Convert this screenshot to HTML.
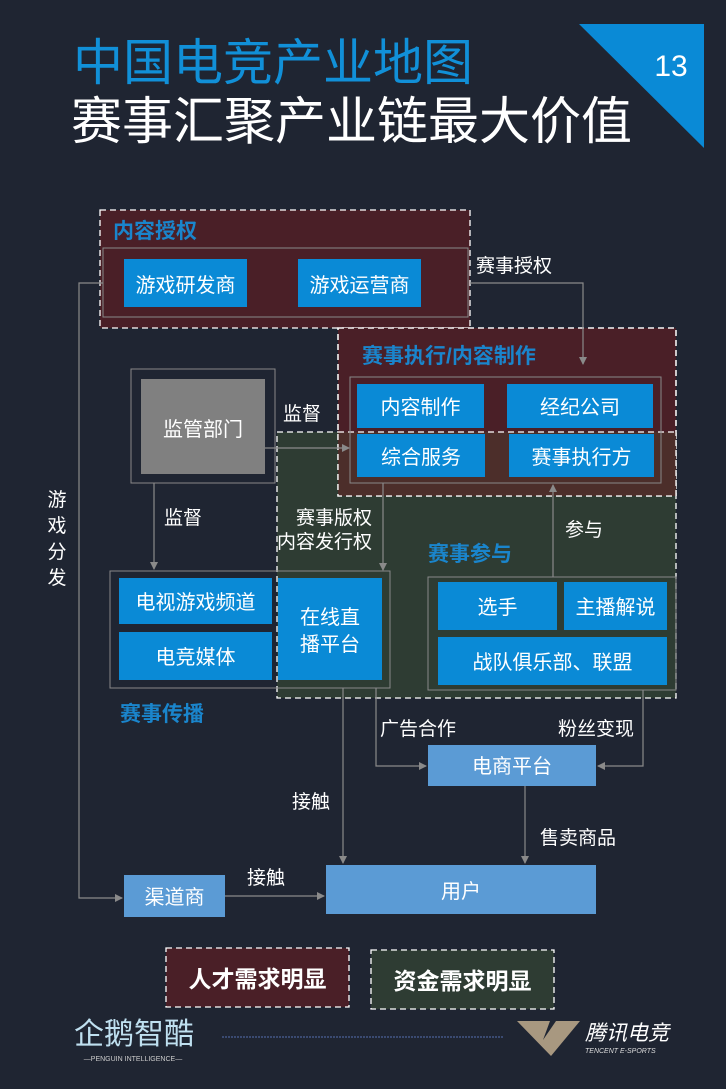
<!DOCTYPE html>
<html><head><meta charset="utf-8"><style>
html,body{margin:0;padding:0;background:#1f2532;}
svg{display:block}
text{font-family:"Liberation Sans","Noto Sans CJK SC",sans-serif;}
</style></head><body>
<svg width="726" height="1089" viewBox="0 0 726 1089" xmlns="http://www.w3.org/2000/svg">
<defs>
<marker id="a" markerWidth="8" markerHeight="8" refX="7" refY="4" orient="auto" markerUnits="userSpaceOnUse"><path d="M0,0 L8,4 L0,8 z" fill="#8a8a8a"/></marker>
</defs>
<rect width="726" height="1089" fill="#1f2532"/>
<text x="73" y="80" font-size="50" fill="#1190d8">中国电竞产业地图</text>
<text x="71" y="139" font-size="51" fill="#ffffff">赛事汇聚产业链最大价值</text>
<polygon points="579,24 704,24 704,148" fill="#0a8ad6"/>
<text x="671" y="76" font-size="30" fill="#fff" text-anchor="middle">13</text>

<rect x="277" y="432" width="399" height="266" fill="#2e3c33" stroke="#fff" stroke-dasharray="6,4" stroke-width="1.3"/>
<rect x="100" y="210" width="370" height="118" fill="#4a1f27" stroke="#fff" stroke-dasharray="6,4" stroke-width="1.3"/>
<text x="113" y="238" font-size="21" font-weight="bold" fill="#1a85cc">内容授权</text>
<rect x="103" y="248" width="365" height="69" fill="none" stroke="#888" stroke-width="1"/>
<rect x="124" y="259" width="123" height="48" fill="#0a8ad6"/>
<text x="185.5" y="292" font-size="20" fill="#fff" text-anchor="middle">游戏研发商</text>
<rect x="298" y="259" width="123" height="48" fill="#0a8ad6"/>
<text x="359.5" y="292" font-size="20" fill="#fff" text-anchor="middle">游戏运营商</text>

<rect x="338" y="328" width="338" height="168" fill="#4a1f27" stroke="#fff" stroke-dasharray="6,4" stroke-width="1.3"/>
<rect x="338" y="432" width="338" height="64" fill="#4c2e2a"/>
<line x1="338" y1="432" x2="676" y2="432" stroke="#fff" stroke-dasharray="6,4" stroke-width="1.3"/>
<rect x="338" y="328" width="338" height="168" fill="none" stroke="#fff" stroke-dasharray="6,4" stroke-width="1.3"/>
<text x="362" y="363" font-size="21" font-weight="bold" fill="#1a85cc">赛事执行/内容制作</text>
<rect x="350" y="377" width="311" height="106" fill="none" stroke="#888"/>
<rect x="357" y="384" width="127" height="44" fill="#0a8ad6"/>
<text x="420.5" y="414" font-size="20" fill="#fff" text-anchor="middle">内容制作</text>
<rect x="507" y="384" width="146" height="44" fill="#0a8ad6"/>
<text x="580" y="414" font-size="20" fill="#fff" text-anchor="middle">经纪公司</text>
<rect x="357" y="434" width="128" height="43" fill="#0a8ad6"/>
<text x="421" y="464" font-size="20" fill="#fff" text-anchor="middle">综合服务</text>
<rect x="509" y="434" width="145" height="43" fill="#0a8ad6"/>
<text x="581.5" y="464" font-size="20" fill="#fff" text-anchor="middle">赛事执行方</text>

<rect x="131" y="369" width="144" height="114" fill="none" stroke="#888"/>
<rect x="141" y="379" width="124" height="95" fill="#808080"/>
<text x="203" y="436" font-size="20" fill="#fff" text-anchor="middle">监管部门</text>

<g stroke="#8a8a8a" stroke-width="1.2" fill="none">
<polyline points="103,283 79,283 79,898 122,898" marker-end="url(#a)"/>
<polyline points="470,283 583,283 583,364" marker-end="url(#a)"/>
<line x1="265" y1="448" x2="349" y2="448" marker-end="url(#a)"/>
<line x1="154" y1="483" x2="154" y2="569" marker-end="url(#a)"/>
<line x1="383" y1="483" x2="383" y2="570" marker-end="url(#a)"/>
<line x1="553" y1="577" x2="553" y2="485" marker-end="url(#a)"/>
<polyline points="376,688 376,766 426,766" marker-end="url(#a)"/>
<polyline points="643,690 643,766 598,766" marker-end="url(#a)"/>
<line x1="525" y1="786" x2="525" y2="863" marker-end="url(#a)"/>
<line x1="343" y1="688" x2="343" y2="863" marker-end="url(#a)"/>
<line x1="225" y1="896" x2="324" y2="896" marker-end="url(#a)"/>
</g>

<g font-size="19" fill="#fff">
<text x="476" y="272">赛事授权</text>
<text x="283" y="420">监督</text>
<text x="164" y="524">监督</text>
<text x="372" y="524" text-anchor="end">赛事版权</text>
<text x="372" y="548" text-anchor="end">内容发行权</text>
<text x="565" y="536">参与</text>
<text x="380" y="735">广告合作</text>
<text x="558" y="735">粉丝变现</text>
<text x="540" y="844">售卖商品</text>
<text x="292" y="808">接触</text>
<text x="247" y="884">接触</text>
<text x="57" y="506" text-anchor="middle">游</text>
<text x="57" y="532" text-anchor="middle">戏</text>
<text x="57" y="558" text-anchor="middle">分</text>
<text x="57" y="584" text-anchor="middle">发</text>
</g>

<rect x="110" y="571" width="280" height="117" fill="none" stroke="#888"/>
<rect x="119" y="578" width="153" height="46" fill="#0a8ad6"/>
<text x="195.5" y="609" font-size="20" fill="#fff" text-anchor="middle">电视游戏频道</text>
<rect x="119" y="632" width="153" height="48" fill="#0a8ad6"/>
<text x="195.5" y="664" font-size="20" fill="#fff" text-anchor="middle">电竞媒体</text>
<rect x="278" y="578" width="104" height="102" fill="#0a8ad6"/>
<text x="330" y="624" font-size="20" fill="#fff" text-anchor="middle">在线直</text>
<text x="330" y="651" font-size="20" fill="#fff" text-anchor="middle">播平台</text>
<text x="120" y="721" font-size="21" font-weight="bold" fill="#1a85cc">赛事传播</text>

<text x="428" y="561" font-size="21" font-weight="bold" fill="#1a85cc">赛事参与</text>
<rect x="428" y="577" width="248" height="113" fill="none" stroke="#888"/>
<rect x="438" y="582" width="119" height="48" fill="#0a8ad6"/>
<text x="497.5" y="614" font-size="20" fill="#fff" text-anchor="middle">选手</text>
<rect x="564" y="582" width="103" height="48" fill="#0a8ad6"/>
<text x="615.5" y="614" font-size="20" fill="#fff" text-anchor="middle">主播解说</text>
<rect x="438" y="637" width="229" height="48" fill="#0a8ad6"/>
<text x="552.5" y="669" font-size="20" fill="#fff" text-anchor="middle">战队俱乐部、联盟</text>

<rect x="428" y="745" width="168" height="41" fill="#5b9bd5"/>
<text x="512" y="773" font-size="20" fill="#fff" text-anchor="middle">电商平台</text>
<rect x="326" y="865" width="270" height="49" fill="#5b9bd5"/>
<text x="461" y="898" font-size="20" fill="#fff" text-anchor="middle">用户</text>
<rect x="124" y="875" width="101" height="42" fill="#5b9bd5"/>
<text x="174.5" y="904" font-size="20" fill="#fff" text-anchor="middle">渠道商</text>

<rect x="166" y="948" width="183" height="59" fill="#4a1f27" stroke="#fff" stroke-dasharray="6,4" stroke-width="1.3"/>
<text x="257.5" y="987" font-size="23" font-weight="bold" fill="#fff" text-anchor="middle">人才需求明显</text>
<rect x="371" y="950" width="183" height="59" fill="#2e3c33" stroke="#fff" stroke-dasharray="6,4" stroke-width="1.3"/>
<text x="462.5" y="989" font-size="23" font-weight="bold" fill="#fff" text-anchor="middle">资金需求明显</text>

<text x="74" y="1044" font-size="30" fill="#bfe0f0">企鹅智酷</text>
<text x="133" y="1061" font-size="7" fill="#ccc" text-anchor="middle">—PENGUIN INTELLIGENCE—</text>
<line x1="222" y1="1037" x2="503" y2="1037" stroke="#5570b0" stroke-dasharray="2,1" stroke-width="1"/>
<polygon points="517,1021 550,1021 543,1040 556,1021 580,1021 551,1056" fill="#a89880"/>
<text x="585" y="1040" font-size="21" font-style="italic" fill="#fff">腾讯电竞</text>
<text x="585" y="1053" font-size="7" font-style="italic" fill="#ddd">TENCENT E-SPORTS</text>
</svg>
</body></html>
